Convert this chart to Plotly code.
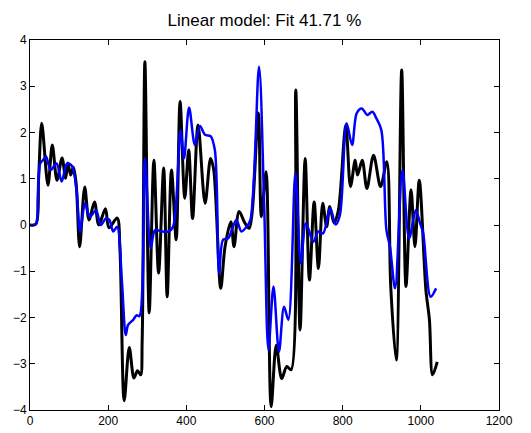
import plotly.graph_objects as go

title_text = "Linear model: Fit 41.71 %"

measured_x = [0, 15, 22, 30, 46, 57, 69, 82, 91, 97, 104, 111, 118, 127, 140, 151, 165, 176, 193, 202,
              223, 230, 241, 254, 266, 275, 283, 287, 294, 305, 317, 329, 342, 351, 362, 374, 384, 396,
              406, 416, 430, 448, 462, 470, 488, 499, 514, 522, 535, 550, 561, 584, 592, 604, 617, 630,
              644, 657, 668, 680, 691, 704, 715, 727, 738, 749, 759, 767, 778, 789, 808, 820, 832, 838,
              850, 862, 879, 897, 913, 923, 937, 951, 962, 975, 985, 996, 1013, 1022, 1030, 1042]
measured_y = [0, 0.02, 1.0, 2.2, 0.86, 1.73, 0.97, 1.45, 1.01, 1.34, 1.08, 1.25, 0.9, -0.47, 0.82, 0.11,
              0.5, 0.0, 0.35, -0.06, 0.15, -0.5, -3.8, -2.65, -3.31, -3.15, -3.24, -2.5, 3.53, -1.9, 1.4,
              -1.04, 1.23, -1.55, 1.19, -0.32, 2.67, 0.58, 1.62, 0.14, 2.16, 0.47, 1.44, 1.2, -1.37, -0.47,
              0.07, -0.47, 0.29, 0.04, -0.07, 2.42, 0.18, 1.15, -3.93, -2.6, -3.32, -3.06, -3.13, 2.92,
              -2.27, 1.44, -1.19, 0.5, -0.94, 0.47, -0.04, 0.4, 0.04, 0.32, 2.16, 0.83, 1.4, 1.08, 1.4,
              0.79, 1.51, 0.83, 1.37, -1.33, -2.92, 3.35, -1.33, 0.76, -0.47, 0.97, -1.41, -2.05, -3.24,
              -2.96]

model_x = [0, 15, 20, 26, 33, 41, 53, 68, 81, 95, 107, 119, 128, 141, 153, 169, 181, 194, 203, 213, 223,
           235, 245, 251, 264, 273, 280, 294, 309, 320, 337, 354, 366, 385, 394, 407, 422, 435, 448, 462,
           473, 484, 494, 507, 528, 541, 554, 564, 586, 599, 610, 623, 637, 650, 661, 679, 693, 706, 725,
           738, 750, 768, 782, 793, 810, 824, 836, 849, 863, 876, 886, 899, 912, 921, 934, 953, 970, 987,
           998, 1006, 1025, 1039]
model_y = [0, 0.02, 0.6, 1.33, 1.4, 1.48, 1.19, 1.33, 0.94, 1.33, 1.28, 0.76, -0.14, 0.47, 0.18, 0.32,
           0.0, 0.14, 0.11, -0.14, -0.04, -1.2, -2.38, -2.16, -2.05, -1.95, -1.97, 1.44, -0.5, -0.11,
           -0.14, -0.14, -0.04, 2.05, 1.44, 2.54, 1.73, 2.14, 1.95, 1.92, 1.62, -1.05, -0.32, -0.29, 0.11,
           -0.14, -0.04, 0.11, 3.42, 0.47, -2.7, -1.33, -2.74, -1.77, -2.05, 1.12, -0.83, 0.04, -0.36,
           -0.14, -0.18, 0.36, 0.01, 0.22, 2.2, 1.73, 2.42, 2.52, 2.38, 2.45, 2.31, 2.05, -0.11, -0.47,
           -1.37, 1.19, -0.29, 0.32, 0.04, -0.18, -1.55, -1.37]

x_ticks = [0, 200, 400, 600, 800, 1000, 1200]
y_ticks = [-4, -3, -2, -1, 0, 1, 2, 3, 4]
y_tick_labels = ["\u22124", "\u22123", "\u22122", "\u22121", "0", "1", "2", "3", "4"]

fig = go.Figure()
fig.add_trace(go.Scatter(x=measured_x, y=measured_y, mode="lines",
                         line=dict(color="#000000", width=3, shape="spline", smoothing=0.9),
                         showlegend=False))
fig.add_trace(go.Scatter(x=model_x, y=model_y, mode="lines",
                         line=dict(color="#0000ff", width=2.5, shape="spline", smoothing=0.9),
                         showlegend=False))

axis_common = dict(showline=True, linecolor="black", linewidth=1, mirror="ticks",
                   ticks="inside", ticklen=5, tickcolor="black", showgrid=False,
                   zeroline=False, automargin=False,
                   tickfont=dict(family="Liberation Sans, Arial", size=12, color="black"))

# the page body adds an 8px offset, so the figure is sized to fit the 531x433 window
fig.update_layout(
    width=523, height=425,
    margin=dict(l=22, r=32, t=32, b=23, pad=0),
    paper_bgcolor="white", plot_bgcolor="white",
    title=dict(text=title_text, x=0.4904, xanchor="center", y=0.9718, yanchor="middle",
               font=dict(family="Liberation Sans, Arial", size=17, color="black")),
    xaxis=dict(range=[0, 1200], tickvals=x_ticks, ticktext=[str(v) for v in x_ticks], **axis_common),
    yaxis=dict(range=[-4, 4], tickvals=y_ticks, ticktext=y_tick_labels, **axis_common),
)

fig.write_html("out.html")
